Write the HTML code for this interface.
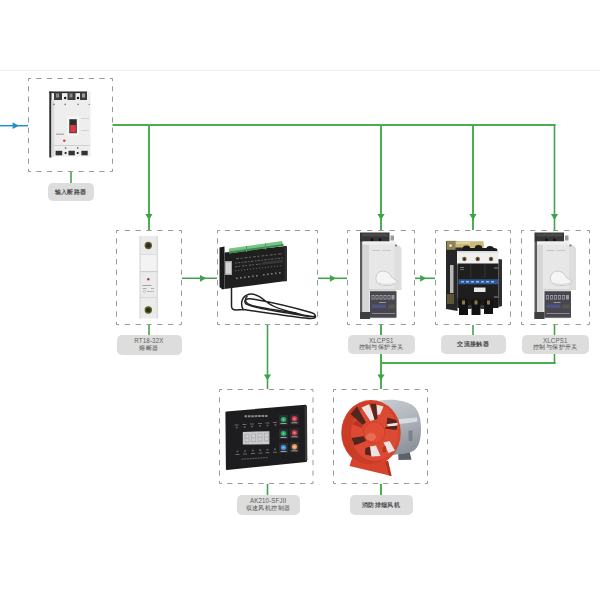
<!DOCTYPE html>
<html><head><meta charset="utf-8">
<style>
html,body{margin:0;padding:0;background:#fff;width:600px;height:600px;overflow:hidden;}
body{position:relative;font-family:"Liberation Sans",sans-serif;}
svg{position:absolute;left:0;top:0;}
.lb{position:absolute;background:#dcdddc;border-radius:5px;color:#4a4a4a;font-size:6px;letter-spacing:0.4px;font-weight:bold;line-height:8.5px;text-align:center;display:flex;flex-direction:column;justify-content:center;align-items:center;}
.en{display:inline-block;font-size:7.2px;font-weight:normal;color:#5e5e5e;transform:scaleX(0.86);letter-spacing:0.15px;white-space:nowrap;line-height:7.4px;}
.zh{font-weight:normal;color:#454545;line-height:7.4px;}
</style></head><body>
<svg width="600" height="600" viewBox="0 0 600 600">
  <!-- top faint line -->
  <rect x="0" y="70" width="600" height="1" fill="#ededed"/>

  <!-- ===== circuit breaker ===== -->
  <g id="cb">
    <rect x="49.5" y="91.5" width="41" height="65" fill="#eeeeee"/>
    <rect x="49.3" y="91.5" width="2.2" height="66" fill="#2a2a2a"/>
    <rect x="51.3" y="100" width="3" height="56.5" fill="#dadada"/>
    <rect x="49.5" y="91.5" width="37.5" height="1.6" fill="#2a2a2a"/>
    <rect x="54" y="92.5" width="8" height="7.5" fill="#3c3c3c"/>
    <rect x="67.5" y="92.5" width="8" height="7.5" fill="#3c3c3c"/>
    <rect x="80" y="92.5" width="7" height="7.5" fill="#3c3c3c"/>
    <rect x="56" y="93.5" width="3" height="4" fill="#8a8a8a"/>
    <rect x="69.5" y="93.5" width="3" height="4" fill="#8a8a8a"/>
    <rect x="82" y="93.5" width="3" height="4" fill="#9aa0a4"/>
    <circle cx="65.2" cy="98" r="1.2" fill="#111"/>
    <circle cx="78" cy="98" r="1.2" fill="#111"/>
    <g fill="#7a7a7a">
      <circle cx="54" cy="104.4" r="0.8"/><circle cx="65.2" cy="104.4" r="0.8"/>
      <circle cx="78" cy="104.4" r="0.8"/><circle cx="89.2" cy="104.4" r="0.7"/>
    </g>
    <rect x="67" y="116.5" width="12" height="19" fill="#f6f6f6"/>
    <rect x="69.3" y="119.2" width="7.5" height="14" fill="#2e2e2e"/>
    <rect x="70.2" y="125" width="5.7" height="7.5" fill="#d83a40"/>
    <rect x="56" y="133.5" width="8" height="1.5" fill="#b4b4b4"/>
    <rect x="81" y="118" width="8" height="1" fill="#d4d4d4"/>
    <rect x="81" y="130" width="8" height="1" fill="#d4d4d4"/>
    <circle cx="64.3" cy="140.8" r="1.3" fill="#d84048"/>
    <rect x="51.3" y="145" width="39" height="1" fill="#d0d0d0"/>
    <rect x="55.6" y="150.8" width="6.6" height="4.5" fill="#333"/>
    <rect x="68.5" y="150.8" width="6.3" height="4.5" fill="#333"/>
    <rect x="81.4" y="150.8" width="6.3" height="4.5" fill="#333"/>
    <circle cx="65.6" cy="153" r="1.1" fill="#1a1a1a"/>
    <circle cx="77.7" cy="153" r="1.1" fill="#1a1a1a"/>
    <circle cx="65.6" cy="148" r="0.8" fill="#444"/>
    <circle cx="77.7" cy="148" r="0.8" fill="#444"/>
  </g>
  <!-- ===== fuse ===== -->
  <g id="fuse">
    <rect x="139.5" y="236" width="18.5" height="82.5" fill="#ebebeb"/>
    <rect x="139.5" y="236" width="1.5" height="82.5" fill="#dedede"/>
    <rect x="156.5" y="236" width="1.5" height="82.5" fill="#dcdcdc"/>
    <circle cx="148.3" cy="245.5" r="4.6" fill="#f2eee2"/>
    <circle cx="148.3" cy="245.5" r="3.7" fill="#5e5838"/>
    <circle cx="148.3" cy="245.5" r="2.3" fill="#2e2b1a"/>
    <rect x="141" y="254.5" width="15.5" height="16" fill="#f3f3f3"/>
    <rect x="141" y="254" width="15.5" height="0.8" fill="#d6d6d6"/>
    <rect x="140" y="271" width="17.5" height="1.2" fill="#cfcfcf"/>
    <circle cx="148.3" cy="279.3" r="1.2" fill="#b83838"/>
    <rect x="142.5" y="285" width="9" height="0.9" fill="#9a9a9a"/>
    <rect x="142.5" y="288" width="4" height="0.9" fill="#a4a4a4"/>
    <rect x="151" y="288" width="3" height="0.9" fill="#a4a4a4"/>
    <circle cx="144.5" cy="291.5" r="1.3" fill="none" stroke="#b0b0b0" stroke-width="0.6"/>
    <rect x="147" y="291" width="7" height="0.9" fill="#b4b4b4"/>
    <rect x="140" y="297" width="17.5" height="1" fill="#d8d8d8"/>
    <circle cx="148.3" cy="310" r="4.6" fill="#eef0e0"/>
    <circle cx="148.3" cy="310" r="3.7" fill="#5a5c30"/>
    <circle cx="148.3" cy="310" r="2.3" fill="#2c2e16"/>
  </g>
  <!-- ===== controller module ===== -->
  <g id="ctl">
    <g fill="none" stroke="#222" stroke-width="1.5" stroke-linecap="round">
      <path d="M231.5,288.5 L231.5,306 Q231.5,310 236,310 L243,309.5 C240,303 242,296 249,294.3 C256,293 262,298 268,303 C278,310 298,314 312,316.5 C317,317.5 316,314 311,312.5 C295,308 270,302 252,299 C246,298 243,301 246,304 C252,308 280,312 300,315 C308,316.5 314,317 315,316"/>
      <path d="M243,309.5 C258,311.5 285,315.5 305,318 C312,319 316,318.5 315.5,316.5"/>
      <path d="M247,296.5 C244,300 245,303.5 252,305.5 C262,308 282,311 296,313"/>
    </g>
    <polygon points="219.5,247.5 224.5,246.5 224.5,289 222.5,289.5 219.5,287" fill="#1a1a1a"/>
    <polygon points="224.5,252.5 286,246 286,281 224.5,289" fill="#1f1f1f"/>
    <polygon points="229,248.5 282,241 283.5,245.5 229,253.5" fill="#78c487"/>
    <polygon points="229,251.5 283.5,244 283.5,246 229,253.5" fill="#3e8a50"/>
    <g fill="#4f9a60">
      <rect x="246" y="246" width="1" height="6"/><rect x="265" y="243.5" width="1" height="6"/>
    </g>
    <rect x="225" y="261" width="7" height="14" fill="#a8a8a8"/>
    <rect x="226" y="262.5" width="5" height="11" fill="#d4d4d4"/>
    <g fill="none" stroke="#6e6e6e" stroke-width="0.9">
      <line x1="236" y1="258.8" x2="283" y2="253.6" stroke-dasharray="3 1.5 2 2"/>
      <line x1="235" y1="263.2" x2="283" y2="257.9" stroke-dasharray="1.5 1.2 2.5 1.5"/>
      <line x1="235" y1="266.8" x2="283" y2="261.5" stroke-dasharray="2.5 1 1.5 2"/>
      <line x1="235" y1="270.8" x2="283" y2="265.5" stroke-dasharray="1.2 1.8"/>
    </g>
    <g fill="#595959">
      <polygon points="262,262 283,259.8 283,262.5 262,264.7" fill="#363636"/>
    </g>
    <g fill="#808080">
      <rect x="236" y="277.5" width="1.6" height="1.6"/><rect x="240" y="277" width="1.6" height="1.6"/>
      <rect x="244" y="276.5" width="1.6" height="1.6"/><rect x="248" y="276" width="1.6" height="1.6"/>
      <rect x="252" y="275.5" width="1.6" height="1.6"/><rect x="256" y="275" width="1.6" height="1.6"/>
      <rect x="263" y="274" width="1.6" height="1.6"/>
      <rect x="267" y="273.5" width="1.6" height="1.6"/><rect x="271" y="273" width="1.6" height="1.6"/>
      <rect x="275" y="272.5" width="1.6" height="1.6"/><rect x="279" y="272" width="1.6" height="1.6"/>
    </g>
    <polygon points="284.5,245.8 287,246.3 287,281 284.5,281.5" fill="#2e2e2e"/>
  </g>

  <!-- ===== XLCPS1 ===== -->
  <g id="xl">
    <rect x="360" y="232.5" width="29.5" height="9.5" fill="#363636"/>
    <rect x="362" y="233.5" width="26" height="3" fill="#4a4a4a"/>
    <circle cx="372" cy="240" r="1.4" fill="#111"/>
    <circle cx="380" cy="240" r="1.4" fill="#111"/>
    <rect x="390.5" y="235.5" width="3.5" height="5" fill="#9a9a9a"/>
    <rect x="360" y="241.5" width="2.5" height="77" fill="#5c5c5c"/>
    <rect x="362.5" y="241.5" width="6.5" height="77" fill="#d6d6d6"/>
    <rect x="369" y="241.5" width="26.5" height="77" fill="#e7e7e7"/>
    <rect x="362.5" y="241.5" width="33" height="3" fill="#f0f0f0"/>
    <polygon points="394.5,244 399,245.5 401.5,248 401.5,290 394.5,290" fill="#dedede"/>
    <circle cx="396" cy="245.5" r="1.1" fill="#777"/>
    <rect x="372" y="250" width="8" height="1" fill="#c4c4c4"/>
    <rect x="382" y="250" width="9" height="1" fill="#c8c8c8"/>
    <rect x="369" y="289" width="27" height="1.5" fill="#cfcfcf"/>
    <path d="M377,274.5 C378.5,271.2 383,270.5 386.5,271.8 C389,272.8 390.5,275 391.5,277 L397.5,281.5 C397,284 393,285.5 387.5,285.5 C381.5,285.8 377.5,284.5 376.3,281 C375.6,278.8 376,276.5 377,274.5 Z" fill="#f5f5f5" stroke="#bcbcbc" stroke-width="0.7"/>
    <path d="M378,282.5 C382,285 390,285 396.5,282.5" fill="none" stroke="#d2d2d2" stroke-width="0.8"/>
    <rect x="370" y="291.2" width="26.5" height="26.5" fill="#48464e"/>
    <g fill="#9d97a0">
      <rect x="371.5" y="295" width="3" height="4.5"/><rect x="375.5" y="295" width="3" height="4.5"/>
      <rect x="379.5" y="295" width="3" height="4.5"/><rect x="383.5" y="295" width="3" height="4.5"/>
      <rect x="387.5" y="295" width="3" height="4.5"/><rect x="391.5" y="295" width="3" height="4.5"/>
    </g>
    <g fill="#48464e">
      <rect x="372.3" y="296" width="1.4" height="2.5"/><rect x="376.3" y="296" width="1.4" height="2.5"/>
      <rect x="380.3" y="296" width="1.4" height="2.5"/><rect x="384.3" y="296" width="1.4" height="2.5"/>
      <rect x="388.3" y="296" width="1.4" height="2.5"/>
    </g>
    <rect x="379" y="302" width="7" height="1" fill="#9a9a9a"/>
    <rect x="372" y="304.5" width="14" height="3.5" fill="#4e5680"/>
    <rect x="388" y="304.5" width="7" height="4" fill="#55594e"/>
    <rect x="372" y="313" width="23" height="1" fill="#8a8a8a"/>
    <rect x="360" y="312" width="10" height="7" fill="#3e3e3e"/>
  </g>
  <g transform="translate(174.5,0)">
    <rect x="360" y="232.5" width="29.5" height="9.5" fill="#363636"/>
    <rect x="362" y="233.5" width="26" height="3" fill="#4a4a4a"/>
    <circle cx="372" cy="240" r="1.4" fill="#111"/>
    <circle cx="380" cy="240" r="1.4" fill="#111"/>
    <rect x="390.5" y="235.5" width="3.5" height="5" fill="#9a9a9a"/>
    <rect x="360" y="241.5" width="2.5" height="77" fill="#5c5c5c"/>
    <rect x="362.5" y="241.5" width="6.5" height="77" fill="#d6d6d6"/>
    <rect x="369" y="241.5" width="26.5" height="77" fill="#e7e7e7"/>
    <rect x="362.5" y="241.5" width="33" height="3" fill="#f0f0f0"/>
    <polygon points="394.5,244 399,245.5 401.5,248 401.5,290 394.5,290" fill="#dedede"/>
    <circle cx="396" cy="245.5" r="1.1" fill="#777"/>
    <rect x="372" y="250" width="8" height="1" fill="#c4c4c4"/>
    <rect x="382" y="250" width="9" height="1" fill="#c8c8c8"/>
    <rect x="369" y="289" width="27" height="1.5" fill="#cfcfcf"/>
    <path d="M377,274.5 C378.5,271.2 383,270.5 386.5,271.8 C389,272.8 390.5,275 391.5,277 L397.5,281.5 C397,284 393,285.5 387.5,285.5 C381.5,285.8 377.5,284.5 376.3,281 C375.6,278.8 376,276.5 377,274.5 Z" fill="#f5f5f5" stroke="#bcbcbc" stroke-width="0.7"/>
    <path d="M378,282.5 C382,285 390,285 396.5,282.5" fill="none" stroke="#d2d2d2" stroke-width="0.8"/>
    <rect x="370" y="291.2" width="26.5" height="26.5" fill="#48464e"/>
    <g fill="#9d97a0">
      <rect x="371.5" y="295" width="3" height="4.5"/><rect x="375.5" y="295" width="3" height="4.5"/>
      <rect x="379.5" y="295" width="3" height="4.5"/><rect x="383.5" y="295" width="3" height="4.5"/>
      <rect x="387.5" y="295" width="3" height="4.5"/><rect x="391.5" y="295" width="3" height="4.5"/>
    </g>
    <g fill="#48464e">
      <rect x="372.3" y="296" width="1.4" height="2.5"/><rect x="376.3" y="296" width="1.4" height="2.5"/>
      <rect x="380.3" y="296" width="1.4" height="2.5"/><rect x="384.3" y="296" width="1.4" height="2.5"/>
      <rect x="388.3" y="296" width="1.4" height="2.5"/>
    </g>
    <rect x="379" y="302" width="7" height="1" fill="#9a9a9a"/>
    <rect x="372" y="304.5" width="14" height="3.5" fill="#4e5680"/>
    <rect x="388" y="304.5" width="7" height="4" fill="#55594e"/>
    <rect x="372" y="313" width="23" height="1" fill="#8a8a8a"/>
    <rect x="360" y="312" width="10" height="7" fill="#3e3e3e"/>
  </g>
  <!-- ===== contactor ===== -->
  <g id="ct">
    <polygon points="446,241 457.5,241.5 457.5,311 446,309" fill="#262626"/>
    <rect x="446.5" y="240.8" width="9.5" height="9" fill="#8e8256"/>
    <circle cx="450.5" cy="245.6" r="1.3" fill="#f4f0e0"/>
    <polygon points="455.5,241.3 483.5,241.3 484,247.7 455.5,248" fill="#c9b877"/>
    <polygon points="456,242 470,242 470,244 456,244" fill="#ddd09a"/>
    <rect x="455.5" y="247.5" width="9" height="4" fill="#2a2a22"/>
    <rect x="450" y="265" width="3.5" height="28" fill="#b8b8b8"/>
    <rect x="447" y="294" width="7" height="10" fill="#5e5638"/>
    <g fill="#1c1c1c">
      <ellipse cx="466.5" cy="248.8" rx="3.8" ry="3.4"/>
      <ellipse cx="478.5" cy="248.5" rx="3.8" ry="3.4"/>
      <ellipse cx="490" cy="249" rx="3.8" ry="3"/>
      <rect x="463" y="248" width="32" height="3.5"/>
      <ellipse cx="495.5" cy="250" rx="2" ry="1.8"/>
    </g>
    <rect x="457" y="251" width="41.5" height="13.8" fill="#efefef"/>
    <rect x="457.5" y="251" width="41" height="1.5" fill="#d8d8d8"/>
    <circle cx="464.4" cy="259" r="2.2" fill="#6e6038"/>
    <circle cx="477.7" cy="259" r="2.2" fill="#6e6038"/>
    <circle cx="491" cy="259" r="2.2" fill="#6e6038"/>
    <circle cx="464.4" cy="259" r="1" fill="#2a2410"/>
    <circle cx="477.7" cy="259" r="1" fill="#2a2410"/>
    <circle cx="491" cy="259" r="1" fill="#2a2410"/>
    <polygon points="498.5,259 502,259.5 502,306 498.5,307" fill="#2e2e2e"/>
    <rect x="457.5" y="263.5" width="41" height="43" fill="#1e1e1e"/>
    <rect x="470.5" y="264" width="0.8" height="14" fill="#3a3a3a"/>
    <rect x="484.5" y="264" width="0.8" height="14" fill="#3a3a3a"/>
    <rect x="460" y="267" width="4" height="1" fill="#777"/>
    <rect x="460" y="269" width="4" height="1" fill="#666"/>
    <rect x="494" y="267" width="4" height="2" fill="#555"/>
    <rect x="458.5" y="279.3" width="39.5" height="5" fill="#2d5a98"/>
    <g fill="#9ab4dc">
      <rect x="461" y="281" width="3" height="1.5"/><rect x="466" y="281" width="3" height="1.5"/>
      <rect x="471" y="281" width="3" height="1.5"/><rect x="476" y="281" width="3" height="1.5"/>
      <rect x="481" y="281" width="3" height="1.5"/><rect x="486" y="281" width="3" height="1.5"/>
      <rect x="491" y="281" width="3" height="1.5"/>
    </g>
    <rect x="474" y="287.5" width="11.5" height="4.5" fill="#e8e8e8"/>
    <rect x="494" y="296" width="4" height="3" fill="#555"/>
    <rect x="457.5" y="298" width="41" height="10" fill="#1a1a1a"/>
    <g fill="#121212">
      <rect x="459" y="300" width="9" height="15"/>
      <rect x="471.5" y="300" width="9" height="15"/>
      <rect x="484" y="300" width="9" height="14"/>
    </g>
    <g fill="#8a7a48">
      <rect x="462" y="300.5" width="3" height="4"/>
      <rect x="474.5" y="300.5" width="3" height="4"/>
      <rect x="487" y="300.5" width="3" height="4"/>
    </g>
    <g fill="#3a3a3a">
      <rect x="468" y="305" width="3.5" height="4"/>
      <rect x="480.5" y="305" width="3.5" height="4"/>
    </g>
  </g>

  <!-- ===== AK210 panel ===== -->
  <g id="ak">
    <polygon points="226.5,412.5 305.5,405.8 306,460.8 227,469" fill="#1d1d1f" stroke="#1d1d1f" stroke-width="2.2" stroke-linejoin="round"/>
    <polygon points="304.5,406.3 307,406.1 307.3,460.3 305,460.8" fill="#38383a"/>
    <line x1="244.5" y1="416.3" x2="268" y2="415.9" stroke="#8a8a8c" stroke-width="2" stroke-dasharray="2.6 0.8"/>
    <g fill="#6a6a6c">
      <rect x="234.5" y="424.5" width="4" height="1"/><rect x="242.5" y="424" width="4" height="1"/>
      <rect x="250" y="423.5" width="4" height="1"/><rect x="258" y="423" width="4" height="1"/>
      <rect x="265.5" y="422.5" width="4" height="1"/><rect x="273" y="422" width="4" height="1"/>
    </g>
    <g fill="#5a5a5c">
      <circle cx="236.7" cy="427.5" r="1.1"/><circle cx="244.7" cy="427" r="1.1"/>
      <circle cx="252" cy="426.5" r="1.1"/><circle cx="260" cy="426" r="1.1"/>
      <circle cx="267.5" cy="425.5" r="1.1"/><circle cx="275.5" cy="425" r="1.1"/>
    </g>
    <polygon points="242.8,431.9 269.4,431.2 269.4,444.2 242.8,444.6" fill="#cbcbcd"/>
    <g fill="#b2b2b4">
      <rect x="244.5" y="434" width="5" height="8.5"/><rect x="251" y="433.6" width="5" height="8.5"/>
      <rect x="257.5" y="433.2" width="5" height="8.5"/><rect x="264" y="432.8" width="5" height="8.5"/>
    </g>
    <g fill="#cfcfd1">
      <rect x="245.5" y="435" width="3" height="2.6"/><rect x="252" y="434.6" width="3" height="2.6"/>
      <rect x="258.5" y="434.2" width="3" height="2.6"/><rect x="265" y="433.8" width="3" height="2.6"/>
      <rect x="245.5" y="438.8" width="3" height="2.6"/><rect x="252" y="438.4" width="3" height="2.6"/>
      <rect x="258.5" y="438" width="3" height="2.6"/><rect x="265" y="437.6" width="3" height="2.6"/>
    </g>
    <g fill="#5a5a5c">
      <circle cx="237.5" cy="451.5" r="1.1"/><circle cx="245" cy="451" r="1.1"/>
      <circle cx="252.8" cy="450.6" r="1.1"/><circle cx="260.2" cy="450.2" r="1.1"/>
      <circle cx="267.5" cy="449.8" r="1.1"/><circle cx="275" cy="449.3" r="1.1"/>
    </g>
    <g fill="#6a6a6c">
      <rect x="235.5" y="454" width="4" height="1"/><rect x="243" y="453.5" width="4" height="1"/>
      <rect x="251" y="453" width="4" height="1"/><rect x="258.5" y="452.6" width="4" height="1"/>
      <rect x="265.5" y="452.2" width="4" height="1"/><rect x="273" y="451.8" width="4" height="1"/>
    </g>
    <line x1="241.5" y1="459.2" x2="268" y2="457.5" stroke="#6a6a6c" stroke-width="0.9" stroke-dasharray="2 0.7"/>
    <g fill="#2c2c2e">
      <rect x="279" y="415" width="9" height="10"/><rect x="290" y="414.3" width="9" height="10"/>
      <rect x="279" y="429" width="9" height="10"/><rect x="290" y="428.3" width="9" height="10"/>
      <rect x="279" y="443" width="9" height="10"/><rect x="290" y="442.3" width="9" height="10"/>
    </g>
    <circle cx="283.5" cy="419.5" r="2.8" fill="#1fa060"/>
    <circle cx="294.5" cy="418.8" r="2.8" fill="#c83a4a"/>
    <circle cx="283.5" cy="433.5" r="2.8" fill="#1fa060"/>
    <circle cx="294.5" cy="432.8" r="2.8" fill="#c83a4a"/>
    <circle cx="283.5" cy="447.5" r="2.8" fill="#3a8ad8"/>
    <circle cx="294.5" cy="446.8" r="2.8" fill="#e0904a"/>
    <g fill="#ffffff" opacity="0.45">
      <circle cx="283.5" cy="419.5" r="1.1"/><circle cx="294.5" cy="418.8" r="1.1"/>
      <circle cx="283.5" cy="433.5" r="1.1"/><circle cx="294.5" cy="432.8" r="1.1"/>
      <circle cx="283.5" cy="447.5" r="1.1"/><circle cx="294.5" cy="446.8" r="1.4"/>
    </g>
    <g fill="#a0a0a2">
      <rect x="280.5" y="423" width="6" height="1"/><rect x="291.5" y="422.3" width="6" height="1"/>
      <rect x="280.5" y="437" width="6" height="1"/><rect x="291.5" y="436.3" width="6" height="1"/>
      <rect x="280.5" y="451" width="6" height="1"/><rect x="291.5" y="450.3" width="6" height="1"/>
    </g>
  </g>

  <!-- ===== fan ===== -->
  <g id="fan">
    <defs>
      <linearGradient id="cyl" x1="0" y1="0" x2="0.3" y2="1">
        <stop offset="0" stop-color="#c9cdd3"/>
        <stop offset="0.5" stop-color="#b0b5bd"/>
        <stop offset="1" stop-color="#8f949c"/>
      </linearGradient>
    </defs>
    <polygon points="398,450 409,449 411.5,459.8 398.5,460" fill="#5c626a"/>
    <path d="M378,401 C392,398 406,400.5 413,405.5 C419,410 421,419 421,429 C421,439 419,447 414,450.5 C408,454 400,454 392,455 L378,456 Z" fill="url(#cyl)"/>
    <path d="M399,419 C405,418.5 411,418 417,417.5 L417.5,421.5 C411,422.5 405,423.5 399,424 Z" fill="#d8dce1"/>
    <rect x="408.5" y="430.5" width="4" height="10.5" fill="#7c828b"/>
    <polygon points="353,455 349.5,466 391.5,476 388,461" fill="#d5432d"/>
    <polygon points="388,461 391.5,476 389,475.5 385.5,462" fill="#b3321f"/>
    <ellipse cx="371" cy="432.8" rx="29.8" ry="32.8" fill="#d6432c"/>
    <ellipse cx="369" cy="433" rx="27" ry="31" fill="#c93d28"/>
    <ellipse cx="374.5" cy="433" rx="23.5" ry="28" fill="#dc4a33"/>
    <g fill="#f0e4e2">
      <polygon points="361.5,407.5 369,404.2 375,419.5 370.5,421"/>
      <polygon points="376.5,404.5 383.5,406.5 380,414.5 377.5,415"/>
      <polygon points="370,446.5 376,445.5 380.5,456 371.5,456.5"/>
      <polygon points="383.5,442.5 389.5,441 395,450.5 388.5,453"/>
      <polygon points="387.5,424 397.5,422.5 397.5,425.5 387.5,426.5"/>
    </g>
    <g fill="#55261f">
      <polygon points="370.5,404 376,403.8 377.5,419 374.5,420"/>
      <polygon points="350.5,414 357,406.5 366,422.5 362.5,425"/>
      <polygon points="387.5,417.5 396,420 397.3,422.7 386.5,424"/>
      <polygon points="386.5,426.8 397.3,425.7 396.5,430 384.5,428.5"/>
      <polygon points="351.5,438 364.5,436 366,441 354.5,445.5"/>
      <polygon points="365.5,448 369.8,446.8 371,455.8 365,454.5"/>
    </g>
    <g fill="#b8341f">
      <polygon points="357,420 363,426 362,428 352,424"/>
      <polygon points="383,447 386,446 386,452 382,452"/>
    </g>
    <circle cx="374.2" cy="432.5" r="10.8" fill="#e04c34" stroke="#c63d28" stroke-width="0.8"/>
    <ellipse cx="371" cy="437" rx="5" ry="4" fill="#ec7a66" opacity="0.7"/>
  </g>
  <!-- dashed boxes -->
  <g fill="none" stroke="#999" stroke-width="1">
    <line x1="28.5" y1="78.5" x2="112.5" y2="78.5" stroke-dasharray="5.2 5.300" stroke-dashoffset="2.6"/>
    <line x1="112.5" y1="78.5" x2="112.5" y2="171.5" stroke-dasharray="5.2 5.133" stroke-dashoffset="2.6"/>
    <line x1="28.5" y1="78.5" x2="28.5" y2="171.5" stroke-dasharray="5.2 5.133" stroke-dashoffset="2.6"/>
    <line x1="28.5" y1="171.5" x2="112.5" y2="171.5" stroke-dasharray="5.2 5.300" stroke-dashoffset="2.6"/>
    <line x1="116.5" y1="230.5" x2="181.5" y2="230.5" stroke-dasharray="5.2 5.633" stroke-dashoffset="2.6"/>
    <line x1="181.5" y1="230.5" x2="181.5" y2="324.5" stroke-dasharray="5.2 5.244" stroke-dashoffset="2.6"/>
    <line x1="116.5" y1="230.5" x2="116.5" y2="324.5" stroke-dasharray="5.2 5.244" stroke-dashoffset="2.6"/>
    <line x1="116.5" y1="324.5" x2="181.5" y2="324.5" stroke-dasharray="5.2 5.633" stroke-dashoffset="2.6"/>
    <line x1="217.5" y1="230.5" x2="317.5" y2="230.5" stroke-dasharray="5.2 4.800" stroke-dashoffset="2.6"/>
    <line x1="317.5" y1="230.5" x2="317.5" y2="324.5" stroke-dasharray="5.2 5.244" stroke-dashoffset="2.6"/>
    <line x1="217.5" y1="230.5" x2="217.5" y2="324.5" stroke-dasharray="5.2 5.244" stroke-dashoffset="2.6"/>
    <line x1="217.5" y1="324.5" x2="317.5" y2="324.5" stroke-dasharray="5.2 4.800" stroke-dashoffset="2.6"/>
    <line x1="347.5" y1="230.5" x2="414.5" y2="230.5" stroke-dasharray="5.2 5.967" stroke-dashoffset="2.6"/>
    <line x1="414.5" y1="230.5" x2="414.5" y2="324.5" stroke-dasharray="5.2 5.244" stroke-dashoffset="2.6"/>
    <line x1="347.5" y1="230.5" x2="347.5" y2="324.5" stroke-dasharray="5.2 5.244" stroke-dashoffset="2.6"/>
    <line x1="347.5" y1="324.5" x2="414.5" y2="324.5" stroke-dasharray="5.2 5.967" stroke-dashoffset="2.6"/>
    <line x1="435.5" y1="230.5" x2="510.5" y2="230.5" stroke-dasharray="5.2 5.514" stroke-dashoffset="2.6"/>
    <line x1="510.5" y1="230.5" x2="510.5" y2="324.5" stroke-dasharray="5.2 5.244" stroke-dashoffset="2.6"/>
    <line x1="435.5" y1="230.5" x2="435.5" y2="324.5" stroke-dasharray="5.2 5.244" stroke-dashoffset="2.6"/>
    <line x1="435.5" y1="324.5" x2="510.5" y2="324.5" stroke-dasharray="5.2 5.514" stroke-dashoffset="2.6"/>
    <line x1="521.5" y1="230.5" x2="589.5" y2="230.5" stroke-dasharray="5.2 6.133" stroke-dashoffset="2.6"/>
    <line x1="589.5" y1="230.5" x2="589.5" y2="324.5" stroke-dasharray="5.2 5.244" stroke-dashoffset="2.6"/>
    <line x1="521.5" y1="230.5" x2="521.5" y2="324.5" stroke-dasharray="5.2 5.244" stroke-dashoffset="2.6"/>
    <line x1="521.5" y1="324.5" x2="589.5" y2="324.5" stroke-dasharray="5.2 6.133" stroke-dashoffset="2.6"/>
    <line x1="219.5" y1="389.5" x2="313.0" y2="389.5" stroke-dasharray="5.2 5.189" stroke-dashoffset="2.6"/>
    <line x1="313.0" y1="389.5" x2="313.0" y2="483.5" stroke-dasharray="5.2 5.244" stroke-dashoffset="2.6"/>
    <line x1="219.5" y1="389.5" x2="219.5" y2="483.5" stroke-dasharray="5.2 5.244" stroke-dashoffset="2.6"/>
    <line x1="219.5" y1="483.5" x2="313.0" y2="483.5" stroke-dasharray="5.2 5.189" stroke-dashoffset="2.6"/>
    <line x1="333.5" y1="389.5" x2="427.5" y2="389.5" stroke-dasharray="5.2 5.244" stroke-dashoffset="2.6"/>
    <line x1="427.5" y1="389.5" x2="427.5" y2="483.5" stroke-dasharray="5.2 5.244" stroke-dashoffset="2.6"/>
    <line x1="333.5" y1="389.5" x2="333.5" y2="483.5" stroke-dasharray="5.2 5.244" stroke-dashoffset="2.6"/>
    <line x1="333.5" y1="483.5" x2="427.5" y2="483.5" stroke-dasharray="5.2 5.244" stroke-dashoffset="2.6"/>
  </g>
  <!-- blue input arrow -->
  <g stroke="#2490c8" stroke-width="1.5" fill="#2490c8">
    <line x1="0" y1="125.7" x2="28" y2="125.7"/>
    <path d="M12.6,122.3 L19,125.7 L12.6,129.1 Z" stroke="none"/>
  </g>
  <!-- green lines -->
  <g stroke="#4cae52" stroke-width="2" fill="none">
    <line x1="112.5" y1="125" x2="555.5" y2="125"/>
    <line x1="149" y1="124" x2="149" y2="230"/>
    <line x1="381" y1="124" x2="381" y2="230"/>
    <line x1="473" y1="124" x2="473" y2="230"/>
    <line x1="380" y1="363" x2="555.5" y2="363"/>
    <line x1="381" y1="325" x2="381" y2="389"/>
    <line x1="381" y1="484" x2="381" y2="495"/>
  </g>
  <g stroke="#46a052" stroke-width="1.6" fill="none">
    <line x1="554.5" y1="124" x2="554.5" y2="230"/>
    <line x1="71" y1="172" x2="71" y2="183"/>
    <line x1="149" y1="325" x2="149" y2="335"/>
    <line x1="182" y1="278.3" x2="217" y2="278.3"/>
    <line x1="318" y1="278.3" x2="347" y2="278.3"/>
    <line x1="415" y1="278.3" x2="435" y2="278.3"/>
    <line x1="473" y1="325" x2="473" y2="335"/>
    <line x1="554.5" y1="325" x2="554.5" y2="364"/>
    <line x1="267.5" y1="325" x2="267.5" y2="389"/>
    <line x1="267.5" y1="484" x2="267.5" y2="495"/>
  </g>
  <g fill="#3ea24a">
    <path d="M145.3,214 L152.5,214 L149,220 Z"/>
    <path d="M377.4,214 L384.6,214 L381,220 Z"/>
    <path d="M469.4,214 L476.6,214 L473,220 Z"/>
    <path d="M550.9,214 L558.1,214 L554.5,220 Z"/>
    <path d="M200,274.9 L206.3,278.3 L200,281.7 Z"/>
    <path d="M329.9,274.9 L336,278.3 L329.9,281.7 Z"/>
    <path d="M420.2,274.9 L426,278.3 L420.2,281.7 Z"/>
    <path d="M263.9,374.5 L271.1,374.5 L267.5,380.3 Z"/>
    <path d="M377.4,374.5 L384.6,374.5 L381,380.3 Z"/>
  </g>
</svg>
<div class="lb" style="left:47.5px;top:182.5px;width:46px;height:18.5px;">输入断路器</div>
<div class="lb" style="left:116.5px;top:335px;width:65px;height:19.5px;"><span class="en">RT18-32X</span><span class="zh">熔断器</span></div>
<div class="lb" style="left:347.5px;top:335px;width:67px;height:18.5px;"><span class="en">XLCPS1</span><span class="zh">控制与保护开关</span></div>
<div class="lb" style="left:441px;top:335px;width:64.5px;height:18.5px;">交流接触器</div>
<div class="lb" style="left:522px;top:335px;width:67px;height:18.5px;"><span class="en">XLCPS1</span><span class="zh">控制与保护开关</span></div>
<div class="lb" style="left:236.5px;top:495px;width:63px;height:19.5px;"><span class="en">AK210-SFJII</span><span class="zh">双速风机控制器</span></div>
<div class="lb" style="left:349.5px;top:495px;width:63px;height:19.5px;">消防排烟风机</div>
</body></html>
